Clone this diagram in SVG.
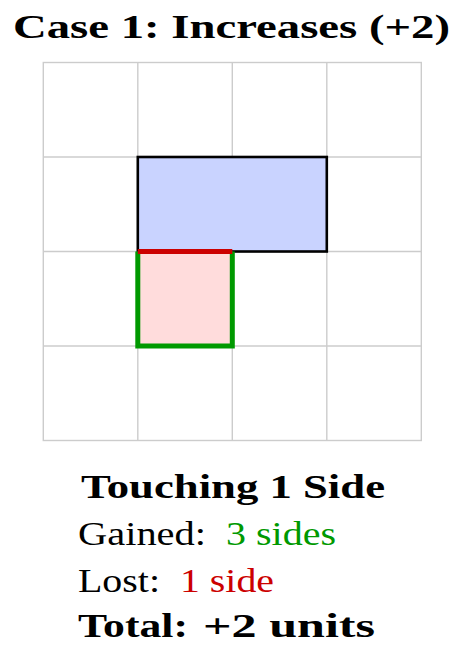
<svg xmlns="http://www.w3.org/2000/svg" width="465" height="649" viewBox="0 0 465 649">
  <style>
    .grid { stroke: #cccccc; stroke-width: 1.4; fill: none; }
    .t { font-family: "Liberation Serif", "DejaVu Serif", serif; font-size: 33px; fill: #000; }
    .b { font-weight: bold; }
    .green { fill: #009900; }
    .red { fill: #cc0000; }
  </style>
  <rect width="465" height="649" fill="#ffffff"/>
  <g id="title">
    <text class="t b" x="13" y="38" textLength="437" lengthAdjust="spacingAndGlyphs">Case 1: Increases (+2)</text>
  </g>
  <g id="grid" class="grid">
    <rect x="43.3" y="62.5" width="378" height="378"/>
    <line x1="137.8" y1="62.5" x2="137.8" y2="440.5"/>
    <line x1="232.3" y1="62.5" x2="232.3" y2="440.5"/>
    <line x1="326.8" y1="62.5" x2="326.8" y2="440.5"/>
    <line x1="43.3" y1="157" x2="421.3" y2="157"/>
    <line x1="43.3" y1="251.5" x2="421.3" y2="251.5"/>
    <line x1="43.3" y1="346" x2="421.3" y2="346"/>
  </g>
  <g id="existing-shape">
    <rect x="137.8" y="157" width="189" height="94.5" fill="#c9d3ff" stroke="#000" stroke-width="2.6"/>
  </g>
  <g id="new-square">
    <rect x="137.8" y="251.5" width="94.5" height="94.5" fill="#ffdcdc"/>
  </g>
  <g id="edges">
    <path d="M232.3 251.5 V346 H137.8 V251.5" fill="none" stroke="#009900" stroke-width="5" stroke-linejoin="miter"/>
    <line x1="137.8" y1="251.5" x2="232.3" y2="251.5" stroke="#cc0000" stroke-width="5"/>
  </g>
  <g id="caption">
    <text class="t b" x="81" y="498" textLength="304" lengthAdjust="spacingAndGlyphs">Touching 1 Side</text>
    <text class="t" x="78" y="545" textLength="128" lengthAdjust="spacingAndGlyphs">Gained:</text>
    <text class="t green" x="226" y="545" textLength="110" lengthAdjust="spacingAndGlyphs">3 sides</text>
    <text class="t" x="78" y="592" textLength="82" lengthAdjust="spacingAndGlyphs">Lost:</text>
    <text class="t red" x="180" y="592" textLength="94" lengthAdjust="spacingAndGlyphs">1 side</text>
    <text class="t b" x="78" y="637" textLength="110" lengthAdjust="spacingAndGlyphs">Total:</text>
    <text class="t b" x="203" y="637" textLength="172" lengthAdjust="spacingAndGlyphs">+2 units</text>
  </g>
</svg>
